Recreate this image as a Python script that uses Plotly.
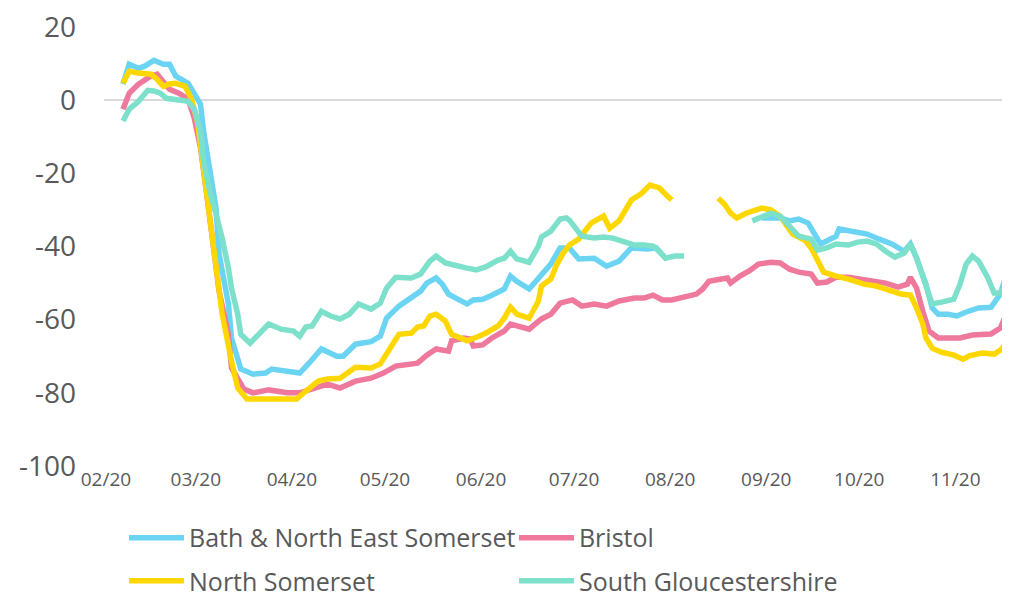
import pandas as pd
import plotly.graph_objects as go

START = pd.Timestamp("2020-02-15")

# days since 15 Feb 2020, and % change from baseline (None = missing data)
bath_day = [0, 2, 5, 7, 10, 13, 15, 17, 21, 23, 25, 26, 28, 30, 31, 34, 35, 38, 42, 46, 48, 53, 57, 60, 64, 69, 71, 75, 80, 83, 85, 89, 93, 96, 98, 101, 103, 105, 108, 111, 113, 116, 119, 123, 125, 127, 131, 135, 138, 141, 144, 147, 152, 156, 160, 164, 169, 172, 175, 190, 206, 212, 215, 218, 221, 223, 225, 227, 230, 231, 235, 240, 244, 248, 252, 254, 256, 259, 261, 263, 266, 269, 272, 276, 280, 283, 285, 286]
bath_val = [4.4, 9.8, 8.7, 9.3, 10.9, 9.8, 9.8, 6.6, 4.6, 1.6, -1.1, -8.5, -19.4, -29.5, -42, -55.7, -65, -73.5, -74.9, -74.6, -73.5, -74, -74.6, -71.9, -68, -70, -70, -66.7, -66, -64.5, -59.6, -56.3, -54, -52.2, -50, -48.6, -50.3, -53, -54.4, -55.7, -54.6, -54.4, -53.3, -51.6, -48.1, -49.5, -51.6, -47.5, -44.8, -40.4, -40.4, -43.4, -43.2, -45.4, -44, -40.4, -40.7, -40.4, -43.2, None, -32.2, -32.2, -33, -32.5, -33.6, -36.3, -39.3, -38.5, -37.2, -35.2, -35.8, -36.6, -38, -39.3, -41.3, -39.3, -43.2, -50.3, -56.8, -58.5, -58.5, -59, -57.9, -56.8, -56.6, -53, -47.5, -45]

bristol_day = [0, 2, 5, 9, 11, 13, 15, 18, 21, 23, 25, 27, 29, 31, 34, 35, 39, 42, 47, 53, 57, 61, 66, 70, 75, 80, 84, 88, 92, 95, 98, 101, 105, 106, 110, 112, 113, 116, 119, 123, 125, 128, 131, 135, 138, 141, 145, 148, 152, 156, 160, 165, 168, 171, 174, 177, 182, 185, 187, 189, 193, 195, 196, 199, 202, 205, 209, 212, 215, 218, 222, 224, 227, 230, 234, 238, 242, 246, 250, 253, 254, 256, 258, 260, 263, 266, 270, 274, 280, 283, 285, 286]
bristol_val = [-2.5, 1.9, 4.4, 6.6, 7.1, 5.2, 3, 1.9, 0.3, -4.9, -13, -25.7, -38.5, -52.2, -64, -73.2, -79, -80, -79.2, -80, -80, -79, -77.6, -78.7, -76.8, -76, -74.6, -72.7, -72.1, -71.9, -69.7, -68, -68.6, -65.8, -65, -65.3, -67.2, -66.9, -65, -63.1, -61.2, -62, -62.6, -59.8, -58.5, -55.5, -54.6, -56.3, -55.7, -56.3, -54.9, -54.1, -54.1, -53.3, -54.6, -54.6, -53.6, -53, -51.6, -49.5, -48.9, -48.6, -50, -48.1, -46.7, -44.8, -44.3, -44.5, -46.2, -47, -47.5, -50, -49.7, -48.4, -48.4, -48.9, -49.5, -50, -51.1, -50.3, -48.4, -51.4, -57.7, -63.1, -65, -65, -65, -64.2, -63.9, -62.3, -58.5, -56.5]

nsom_day = [0, 2, 5, 9, 11, 13, 15, 17, 20, 22, 24, 26, 28, 30, 32, 35, 37, 40, 43, 47, 52, 56, 59, 63, 66, 70, 75, 80, 83, 86, 89, 93, 95, 97, 99, 101, 104, 106, 111, 114, 117, 121, 123, 125, 127, 131, 134, 135, 138, 140, 142, 144, 147, 151, 155, 157, 160, 164, 167, 170, 173, 175, 177, 185, 192, 194, 196, 198, 201, 203, 206, 209, 212, 216, 220, 222, 224, 226, 230, 234, 239, 243, 247, 251, 254, 256, 258, 259, 261, 264, 268, 271, 273, 277, 281, 283, 286]
nsom_val = [4.6, 7.9, 7.4, 7.1, 5.7, 3.8, 4.4, 4.6, 3.8, 0.5, -5.7, -18.6, -30.3, -44, -58.5, -71.3, -78.7, -81.7, -81.7, -81.4, -81.4, -81.7, -79.5, -76.8, -76.2, -76, -73, -73.2, -72.1, -67.8, -64, -63.7, -62, -61.7, -59, -58.5, -60.4, -64, -65.8, -64.8, -63.7, -61.7, -59.6, -56.6, -58.5, -59.6, -54.9, -50.8, -48.9, -44.8, -41.8, -39.6, -38, -33.6, -31.7, -35, -33, -27.3, -25.7, -23.2, -24, -25.7, -27.3, None, -26.8, -28.4, -30.9, -32.2, -30.9, -30.3, -29.5, -30, -31.7, -36.6, -38.3, -40.4, -43.4, -47, -48.1, -48.9, -50.3, -50.8, -51.9, -53, -53.3, -56.8, -61.2, -65, -67.8, -68.9, -69.7, -70.8, -69.9, -69.1, -69.4, -68.3, -65.8]

sglos_day = [0, 2, 5, 8, 10, 12, 14, 17, 21, 23, 25, 26, 28, 30, 32, 34, 35, 37, 38, 41, 44, 47, 51, 55, 57, 59, 61, 64, 67, 70, 73, 76, 80, 83, 85, 88, 93, 96, 99, 101, 104, 108, 111, 114, 117, 121, 123, 125, 127, 131, 134, 135, 138, 141, 143, 144, 146, 148, 152, 155, 158, 161, 165, 168, 171, 173, 175, 178, 181, 190, 203, 205, 209, 212, 215, 218, 222, 224, 227, 230, 234, 237, 240, 243, 246, 249, 252, 254, 256, 258, 260, 261, 264, 268, 270, 272, 274, 276, 279, 281, 283, 286]
sglos_val = [-5.7, -2.5, -0.3, 2.7, 2.5, 1.9, 0.5, 0.3, -0.3, -2.5, -8.5, -16.7, -24.9, -31.1, -37.7, -45.9, -51.4, -58.5, -64, -66.4, -63.7, -61.2, -62.6, -63.1, -64.5, -62, -61.7, -57.7, -59, -59.8, -58.5, -55.7, -57.1, -55.5, -51.4, -48.4, -48.6, -47.5, -44, -42.6, -44.5, -45.1, -45.9, -46.4, -45.6, -43.7, -43.2, -41.3, -43.4, -44.3, -39.9, -37.4, -35.8, -32.5, -32.2, -32.8, -35, -37.2, -37.7, -37.4, -37.7, -38.5, -39.6, -39.6, -39.9, -41.3, -43.2, -42.6, -42.6, None, -33, -32.2, -30.9, -31.7, -34.7, -37.2, -38, -41, -40.4, -39.3, -39.6, -38.8, -38.5, -39.3, -41.3, -42.9, -41.8, -39.3, -43.2, -48.6, -53, -55.7, -55.2, -54.4, -50.3, -44.8, -42.6, -44, -48.6, -52.7, -52.7, -50]

series_names = ["Bath & North East Somerset", "Bristol", "North Somerset", "South Gloucestershire"]
series_days = [bath_day, bristol_day, nsom_day, sglos_day]
series_vals = [bath_val, bristol_val, nsom_val, sglos_val]
colors = ["#6BD4F3", "#EE799C", "#FFD700", "#7DE0CB"]

tick_months = ["2020-02-01", "2020-03-01", "2020-04-01", "2020-05-01", "2020-06-01",
               "2020-07-01", "2020-08-01", "2020-09-01", "2020-10-01", "2020-11-01"]
tick_labels = ["02/20", "03/20", "04/20", "05/20", "06/20", "07/20", "08/20", "09/20", "10/20", "11/20"]
y_ticks = [-100, -80, -60, -40, -20, 0, 20]
y_tick_labels = ["-100", "-80", "-60", "-40", "-20", "0", "20"]

# legend slots (2 x 2 grid): paper x, paper y
legend_pos = [(0.0221, -0.164), (0.4525, -0.164), (0.0221, -0.262), (0.4525, -0.262)]
legend_ids = ["legend", "legend2", "legend3", "legend4"]

fig = go.Figure()
for name, days, vals, col, lg in zip(series_names, series_days, series_vals, colors, legend_ids):
    dates = START + pd.to_timedelta(days, unit="D")
    fig.add_trace(go.Scatter(
        x=dates, y=vals, name=name, mode="lines",
        line=dict(color=col, width=5.5),
        connectgaps=False, legend=lg, showlegend=True,
    ))

label_shift = pd.Timedelta(days=8.5)
tickvals = [pd.Timestamp(m) + label_shift for m in tick_months]

legend_common = dict(
    orientation="h", xanchor="left", yanchor="middle", itemwidth=55,
    font=dict(size=25, color="#595959"), bgcolor="rgba(0,0,0,0)",
)

layout_legends = {}
for lg, (lx, ly) in zip(legend_ids, legend_pos):
    layout_legends[lg] = dict(legend_common, x=lx, y=ly)

fig.update_layout(
    width=1002, height=589,
    margin=dict(l=96, r=0, t=19, b=131, autoexpand=False),
    showlegend=True,
    paper_bgcolor="white", plot_bgcolor="white",
    font=dict(family="Open Sans", color="#595959"),
    xaxis=dict(
        range=[pd.Timestamp("2020-02-08 21:00"), pd.Timestamp("2020-11-27 03:00")],
        tickvals=tickvals, ticktext=tick_labels,
        showgrid=False, zeroline=False, showline=False, ticks="",
        tickfont=dict(size=19, color="#595959"),
    ),
    yaxis=dict(
        range=[-100, 20], tickvals=y_ticks, ticktext=y_tick_labels,
        showgrid=False, zeroline=True, zerolinecolor="#D9D9D9", zerolinewidth=1.5,
        showline=False, ticks="", ticklabelstandoff=27,
        ticklabeloverflow="allow",
        tickfont=dict(size=28, color="#595959"),
    ),
    **layout_legends,
)

fig.write_html("out.html")
